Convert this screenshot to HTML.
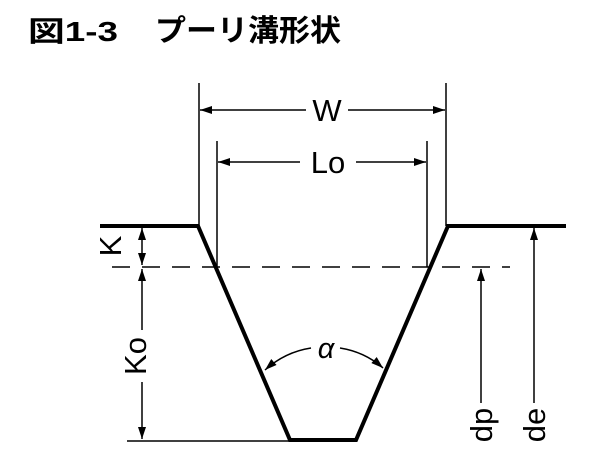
<!DOCTYPE html>
<html><head><meta charset="utf-8"><style>html,body{margin:0;padding:0;background:#fff;}svg{display:block}</style></head>
<body>
<svg width="606" height="462" viewBox="0 0 606 462" xmlns="http://www.w3.org/2000/svg">
<defs>
<marker id="a" viewBox="0 0 12 8" refX="12" refY="4" markerWidth="12" markerHeight="8" markerUnits="userSpaceOnUse" orient="auto"><path d="M0 0L12 4L0 8z" fill="#000"/></marker>
</defs>
<text x="28" y="41" font-family="Liberation Sans, Noto Sans CJK JP, sans-serif" font-weight="bold" font-size="28" textLength="90" lengthAdjust="spacingAndGlyphs">図1-3</text>
<text x="155" y="41" font-family="Liberation Sans, Noto Sans CJK JP, sans-serif" font-weight="bold" font-size="30" textLength="186" lengthAdjust="spacingAndGlyphs">プーリ溝形状</text>
<g stroke="#000" fill="none">
<path d="M100 226H198L290 440H356L448 226H566" stroke-width="4" stroke-linejoin="miter"/>
<line x1="112" y1="267" x2="510" y2="267" stroke-width="1.5" stroke-dasharray="18,12"/>
<line x1="127" y1="441" x2="290" y2="441" stroke-width="1.5"/>
<line x1="199" y1="83" x2="199" y2="226" stroke-width="1.5"/>
<line x1="446" y1="83" x2="446" y2="226" stroke-width="1.5"/>
<line x1="217" y1="141" x2="217" y2="267" stroke-width="1.5"/>
<line x1="427" y1="141" x2="427" y2="267" stroke-width="1.5"/>
<line x1="306" y1="110" x2="200" y2="110" stroke-width="1.5" marker-end="url(#a)"/>
<line x1="348" y1="110" x2="445" y2="110" stroke-width="1.5" marker-end="url(#a)"/>
<line x1="300" y1="162" x2="218" y2="162" stroke-width="1.5" marker-end="url(#a)"/>
<line x1="356" y1="162" x2="426" y2="162" stroke-width="1.5" marker-end="url(#a)"/>
<line x1="142" y1="246" x2="142" y2="228" stroke-width="1.5" marker-end="url(#a)"/>
<line x1="142" y1="246" x2="142" y2="265" stroke-width="1.5" marker-end="url(#a)"/>
<line x1="142" y1="330" x2="142" y2="269" stroke-width="1.5" marker-end="url(#a)"/>
<line x1="142" y1="382" x2="142" y2="439" stroke-width="1.5" marker-end="url(#a)"/>
<line x1="481" y1="403" x2="481" y2="269" stroke-width="1.5" marker-end="url(#a)"/>
<line x1="534" y1="403" x2="534" y2="228" stroke-width="1.5" marker-end="url(#a)"/>
<path d="M311 348Q285 352 265 370" stroke-width="1.5" marker-end="url(#a)"/>
<path d="M340 348Q365 352 383 368" stroke-width="1.5" marker-end="url(#a)"/>
</g>
<g font-family="Liberation Sans, sans-serif" font-size="31" text-anchor="middle" fill="#000">
<text x="327" y="121">W</text>
<text x="328" y="173">Lo</text>
<text x="326" y="358" font-style="italic" font-size="29">α</text>
<text transform="translate(121,246) rotate(-90)">K</text>
<text transform="translate(146,356) rotate(-90)">Ko</text>
<text transform="translate(492,425) rotate(-90)">dp</text>
<text transform="translate(545,425) rotate(-90)">de</text>
</g>
</svg>
</body></html>
